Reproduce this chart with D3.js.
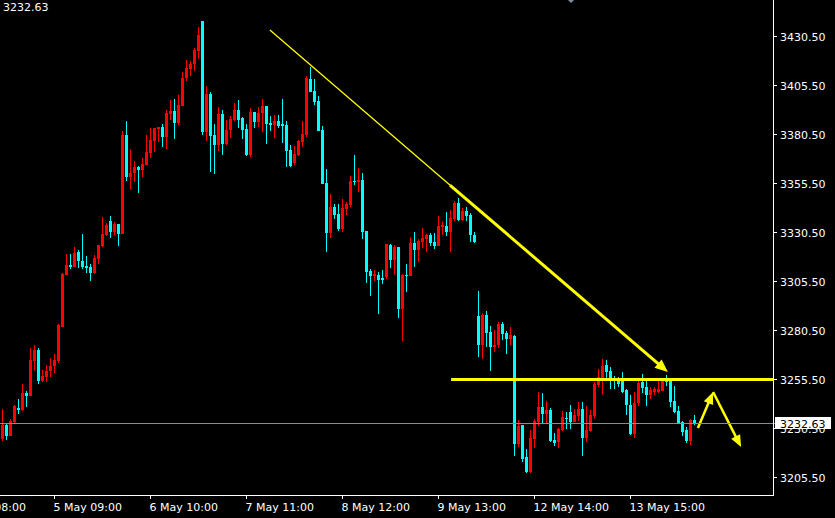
<!DOCTYPE html>
<html><head><meta charset="utf-8">
<script src="https://cdn.jsdelivr.net/npm/d3@7"></script>
<style>html,body{margin:0;padding:0;background:#000;overflow:hidden}svg{display:block}</style>
</head><body><svg id="c" width="835" height="518"></svg>
<script>
// ---- data (H1 bars, oldest first) ----
const opens=[3224.6,3231.7,3226.3,3233.1,3240.6,3239.4,3248.2,3246.7,3264.5,3270.0,
3254.3,3256.4,3259.4,3262.0,3264.5,3281.9,3308.3,3313.6,3312.6,3320.1,
3315.5,3312.9,3312.6,3309.2,3316.5,3323.1,3328.7,3335.9,3330.1,3334.4,
3329.3,3379.7,3358.5,3360.2,3363.6,3361.9,3364.5,3370.8,3376.9,3382.8,
3383.8,3378.9,3390.7,3392.0,3385.7,3394.7,3408.8,3413.4,3415.8,3422.8,
3437.9,3381.4,3400.7,3379.7,3374.6,3390.5,3375.2,3382.3,3387.4,3392.5,
3388.4,3382.8,3369.6,3391.5,3386.4,3391.0,3394.5,3385.9,3384.9,3386.9,
3385.4,3384.9,3372.1,3365.5,3369.6,3376.2,3379.7,3408.3,3402.2,3397.1,
3382.3,3355.3,3329.8,3343.0,3339.5,3331.8,3342.0,3344.1,3356.3,3355.8,
3356.8,3330.8,3310.4,3307.9,3308.4,3306.8,3307.2,3323.6,3316.0,3322.6,
3290.9,3308.4,3307.9,3324.7,3321.1,3325.2,3326.7,3328.7,3325.2,3323.1,
3332.8,3333.3,3330.3,3336.9,3345.1,3336.4,3341.0,3338.9,3328.7,3287.3,
3272.4,3287.9,3279.2,3271.7,3272.4,3283.3,3278.7,3275.6,3277.1,3222.1,
3231.7,3215.4,3207.6,3224.6,3233.3,3240.9,3237.4,3239.4,3224.1,3223.1,
3229.4,3235.5,3238.4,3233.3,3236.3,3239.9,3225.1,3228.7,3236.3,3252.2,
3255.7,3262.3,3259.3,3256.0,3255.2,3254.7,3249.6,3242.0,3227.2,3243.0,
3253.7,3251.1,3247.1,3248.6,3248.6,3249.1,3254.7,3254.7,3244.0,3238.9,
3233.3,3229.2,3223.6,3234.3];
const highs=[3239.9,3232.6,3234.8,3242.0,3245.0,3252.7,3249.1,3270.9,3272.5,3270.9,
3259.8,3262.3,3266.1,3268.0,3283.3,3309.5,3319.1,3319.1,3322.5,3321.1,
3329.3,3318.0,3313.8,3318.5,3323.6,3337.8,3334.7,3338.4,3335.5,3334.4,
3381.8,3386.9,3372.6,3366.5,3364.1,3367.9,3379.7,3383.5,3383.5,3383.8,
3385.6,3392.5,3397.6,3398.1,3400.2,3412.0,3418.0,3417.5,3424.3,3434.7,
3437.9,3404.7,3401.7,3385.4,3394.0,3392.5,3387.4,3389.4,3396.1,3397.6,
3389.1,3385.4,3393.5,3391.5,3394.0,3398.1,3394.5,3389.4,3389.9,3389.9,
3398.1,3386.9,3374.6,3374.1,3377.2,3386.9,3409.8,3414.4,3408.3,3399.6,
3384.3,3362.4,3349.7,3344.6,3344.6,3347.1,3345.6,3358.8,3369.6,3362.9,
3360.4,3330.8,3311.4,3310.9,3309.9,3310.9,3324.2,3324.2,3323.6,3322.6,
3308.9,3314.0,3327.7,3330.3,3326.7,3332.3,3329.3,3329.8,3329.8,3338.4,
3335.9,3340.5,3341.5,3346.1,3347.6,3342.5,3343.0,3340.0,3330.3,3300.1,
3288.7,3289.7,3282.2,3280.2,3284.4,3284.1,3279.7,3281.7,3277.7,3234.3,
3231.7,3219.5,3229.2,3234.8,3248.6,3248.2,3244.0,3240.4,3227.5,3230.2,
3238.9,3238.4,3242.0,3239.9,3243.5,3243.5,3241.4,3239.4,3253.7,3260.4,
3265.4,3264.9,3261.3,3256.7,3256.3,3258.8,3250.0,3247.1,3248.6,3254.7,
3257.8,3254.7,3251.1,3251.1,3254.7,3254.7,3257.3,3254.7,3251.6,3241.4,
3233.8,3230.7,3234.8,3236.8];
const lows=[3223.7,3224.1,3226.1,3232.6,3237.4,3238.9,3241.1,3246.7,3259.4,3252.7,
3253.5,3253.8,3256.4,3258.5,3263.2,3281.9,3308.3,3311.3,3312.4,3311.8,
3311.3,3309.2,3305.4,3308.9,3313.8,3322.8,3328.2,3327.4,3328.7,3323.1,
3329.3,3356.3,3352.2,3356.0,3350.3,3358.5,3364.5,3368.2,3371.2,3376.3,
3373.8,3372.6,3387.4,3377.7,3384.9,3394.7,3407.4,3410.0,3412.4,3418.5,
3379.7,3376.9,3360.9,3359.9,3371.6,3369.5,3374.6,3378.4,3386.9,3383.3,
3377.7,3369.0,3368.5,3383.3,3383.8,3381.3,3375.2,3381.8,3378.2,3383.3,
3375.7,3363.4,3363.4,3364.5,3369.0,3373.6,3378.7,3401.7,3395.1,3381.8,
3354.8,3320.1,3327.2,3336.9,3330.8,3330.3,3338.9,3343.0,3354.2,3350.7,
3326.7,3304.3,3297.7,3305.3,3288.4,3303.8,3306.3,3311.9,3308.4,3286.3,
3274.6,3299.7,3307.9,3312.4,3315.0,3322.1,3320.1,3323.1,3321.6,3323.1,
3328.7,3328.2,3320.1,3335.9,3335.9,3335.9,3335.9,3325.2,3324.7,3266.4,
3265.4,3271.7,3259.1,3269.1,3270.9,3275.1,3268.2,3272.5,3216.0,3220.7,
3213.1,3207.3,3207.3,3220.0,3231.4,3232.8,3232.6,3223.1,3221.2,3220.2,
3228.9,3229.9,3229.9,3233.3,3233.8,3216.0,3223.1,3228.2,3234.8,3251.1,
3246.9,3255.7,3250.1,3250.1,3251.0,3248.1,3236.8,3226.7,3225.1,3241.4,
3248.1,3241.6,3245.0,3247.1,3248.0,3249.1,3251.6,3240.9,3237.9,3232.3,
3226.1,3222.6,3221.5,3231.7];
const closes=[3231.7,3226.3,3234.0,3241.6,3239.4,3248.2,3246.7,3264.9,3270.0,3254.3,
3256.9,3259.4,3262.0,3264.9,3282.8,3309.0,3313.4,3312.6,3319.4,3315.6,
3312.6,3312.1,3309.5,3317.2,3323.6,3329.3,3333.9,3330.4,3334.4,3329.3,
3379.7,3358.5,3360.2,3363.3,3361.9,3365.0,3371.1,3377.2,3383.5,3383.8,
3378.9,3391.1,3392.0,3386.0,3395.1,3408.8,3413.9,3415.8,3423.1,3430.8,
3381.4,3400.7,3379.4,3374.6,3390.5,3375.2,3382.3,3387.9,3392.5,3387.4,
3382.3,3369.6,3391.5,3386.4,3391.0,3394.5,3385.4,3384.9,3386.9,3384.3,
3384.3,3371.6,3363.9,3370.1,3376.7,3380.3,3408.8,3401.7,3396.6,3381.8,
3354.8,3329.8,3343.0,3338.9,3331.8,3342.5,3344.6,3356.3,3355.8,3356.8,
3330.3,3309.9,3307.9,3309.0,3305.8,3305.8,3324.2,3316.0,3322.6,3290.9,
3308.4,3307.9,3324.7,3321.1,3325.7,3327.2,3328.7,3324.7,3323.1,3333.3,
3333.9,3330.3,3337.4,3345.1,3336.4,3341.0,3338.4,3328.7,3325.2,3272.5,
3287.9,3278.8,3271.7,3272.5,3283.3,3278.2,3275.6,3277.7,3222.1,3231.4,
3214.4,3207.6,3225.1,3233.8,3240.9,3237.4,3239.4,3223.6,3222.6,3229.9,
3235.8,3235.2,3233.1,3236.9,3239.9,3225.1,3229.2,3236.9,3252.7,3256.2,
3261.8,3258.8,3255.2,3254.2,3252.7,3248.6,3241.8,3227.2,3243.0,3253.4,
3250.6,3247.1,3249.6,3250.0,3250.3,3254.7,3253.7,3243.5,3238.4,3232.8,
3228.2,3223.6,3234.3,3232.63];

const timeTickBars=[-11,13,37,61,85,109,133,157];
const timeTickLabels=["2 May 08:00","5 May 09:00","6 May 10:00","7 May 11:00","8 May 12:00","9 May 13:00","12 May 14:00","13 May 15:00"];
const priceTicks=[3205.5,3230.5,3255.5,3280.5,3305.5,3330.5,3355.5,3380.5,3405.5,3430.5];
const lastPrice=3232.63;
const levelPrice=3255.0;
const levelStartBar=112.2;
// trend line + arrows in (bar index, price)
const trendThin=[[66.9,3433.3],[111.9,3354.2]];
const trendArrow=[[111.9,3354.2],[166.4,3258.8]];
const upArrow=[[173.9,3230.2],[177.7,3248.6]];
const downArrow=[[177.7,3248.6],[184.7,3220.5]];

// ---- drawing ----
const W=835,H=518,plotR=773,plotB=495;
const svg=d3.select('#c');
svg.append('rect').attr('width',W).attr('height',H).attr('fill','#000');
const x=d3.scaleLinear().domain([0,173]).range([2.3,2.3+4*173]);
const y=d3.scaleLinear().domain([3205.5,3430.5]).range([476.5,35.5]);
const font='DejaVu Sans, Verdana, sans-serif';

svg.append('defs').append('clipPath').attr('id','pc').append('rect')
  .attr('x',0).attr('y',0).attr('width',plotR).attr('height',plotB);
const plot=svg.append('g').attr('clip-path','url(#pc)');

// current price line
const yl=Math.round(y(lastPrice))+0.5;
svg.append('line').attr('x1',0).attr('x2',775).attr('y1',yl).attr('y2',yl)
  .attr('stroke','#8c8c8c').attr('stroke-width',1);

// candles
const bars=opens.map((o,i)=>({i,o,h:highs[i],l:lows[i],c:closes[i]}));
const cg=plot.append('g').attr('shape-rendering','crispEdges');
bars.forEach(b=>{
  const cx=Math.floor(x(b.i));
  const col=b.c>=b.o?'#ff0000':'#00ffff';
  const yh=Math.round(y(b.h)), yl2=Math.round(y(b.l));
  cg.append('rect').attr('x',cx).attr('y',yh).attr('width',1).attr('height',Math.max(1,yl2-yh)).attr('fill',col);
  const t=Math.round(y(Math.max(b.o,b.c))), bt=Math.round(y(Math.min(b.o,b.c)));
  cg.append('rect').attr('x',cx-1).attr('y',t).attr('width',3).attr('height',Math.max(1,bt-t)).attr('fill',col);
});

// annotations
const ag=plot.append('g');
const Y='#ffff00';
function seg(pts,w){
  ag.append('line').attr('x1',x(pts[0][0])).attr('y1',y(pts[0][1]))
    .attr('x2',x(pts[1][0])).attr('y2',y(pts[1][1])).attr('stroke',Y).attr('stroke-width',w);
}
function arrow(pts,w,hl,hw){
  const x0=x(pts[0][0]),y0=y(pts[0][1]),x1=x(pts[1][0]),y1=y(pts[1][1]);
  const dx=x1-x0,dy=y1-y0,L=Math.hypot(dx,dy),ux=dx/L,uy=dy/L;
  const bx=x1-ux*hl,by=y1-uy*hl;
  ag.append('line').attr('x1',x0).attr('y1',y0).attr('x2',bx+ux*2).attr('y2',by+uy*2)
    .attr('stroke',Y).attr('stroke-width',w);
  ag.append('polygon').attr('points',[[x1,y1],[bx-uy*hw,by+ux*hw],[bx+uy*hw,by-ux*hw]].map(p=>p.join(',')).join(' '))
    .attr('fill',Y);
}
seg(trendThin,1.3);
arrow(trendArrow,3,13,5.5);
const yLev=y(levelPrice);
svg.append('line').attr('x1',x(levelStartBar)).attr('x2',plotR).attr('y1',yLev).attr('y2',yLev)
  .attr('stroke',Y).attr('stroke-width',3);
arrow(upArrow,2.5,12,5);
arrow(downArrow,2.5,12,5);

// frame
svg.append('path').attr('d',`M0,${plotB+0.5}H${plotR+0.5}V0`).attr('fill','none')
  .attr('stroke','#fff').attr('stroke-width',1).attr('shape-rendering','crispEdges');

// price axis
const pa=svg.append('g');
priceTicks.forEach(p=>{
  const ty=Math.round(y(p))+0.5;
  pa.append('line').attr('x1',plotR).attr('x2',777).attr('y1',ty).attr('y2',ty)
    .attr('stroke','#fff').attr('shape-rendering','crispEdges');
  pa.append('text').attr('x',780).attr('y',ty+4.5).text(p.toFixed(2))
    .attr('fill','#fff').attr('font-family',font).attr('font-size',11);
});
// last price box
pa.append('rect').attr('x',775).attr('y',Math.round(y(lastPrice))-6).attr('width',56).attr('height',12).attr('fill','#fff');
pa.append('text').attr('x',780).attr('y',Math.round(y(lastPrice))+4.5).text(lastPrice.toFixed(2))
  .attr('fill','#000').attr('font-family',font).attr('font-size',11);

// time axis
const ta=svg.append('g');
timeTickBars.forEach((bi,k)=>{
  const tx=Math.round(x(bi))+0.5;
  if(tx>0) ta.append('line').attr('x1',tx).attr('x2',tx).attr('y1',plotB).attr('y2',plotB+4)
    .attr('stroke','#fff').attr('shape-rendering','crispEdges');
  ta.append('text').attr('x',tx-1).attr('y',510.5).text(timeTickLabels[k])
    .attr('fill','#fff').attr('font-family',font).attr('font-size',11);
});

// top-left price
svg.append('text').attr('x',3).attr('y',10.5).text(lastPrice.toFixed(2))
  .attr('fill','#fff').attr('font-family',font).attr('font-size',11);
// chart shift marker
svg.append('polygon').attr('points','568,0 574,0 571,3').attr('fill','#8090a0');
</script></body></html>
